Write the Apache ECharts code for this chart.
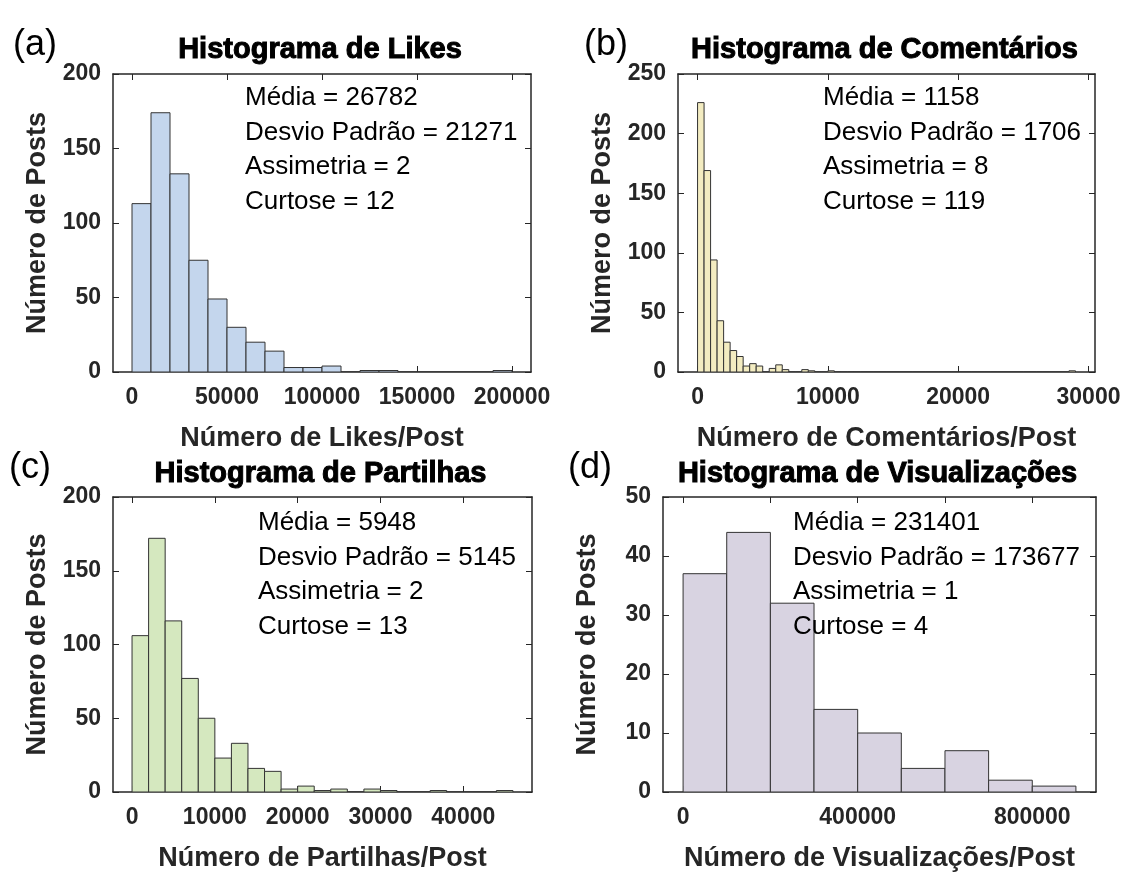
<!DOCTYPE html>
<html>
<head>
<meta charset="utf-8">
<script src="https://cdn.jsdelivr.net/npm/echarts@6/dist/echarts.min.js"></script>
<style>html,body{margin:0;padding:0;background:#fff}#c{width:1129px;height:873px}</style>
</head>
<body>
<div id="c"></div>
<script>
// ---- DATA ----
const likesCounts    = [113, 174, 133, 75, 49, 30, 20, 14, 3, 3, 4, 0, 1, 1, 0, 0, 0, 0, 0, 1];
const likesBinWidth  = 10000;
const commentsCounts = [226, 169, 94, 43, 25, 18, 13, 5, 7, 5, 0, 3, 6, 2, 0, 0, 2, 1, 0, 0, 1,
                        0, 0, 0, 0, 0, 0, 0, 0, 0, 0, 0, 0, 0, 0, 0, 0, 0, 0, 0,
                        0, 0, 0, 0, 0, 0, 0, 0, 0, 0, 0, 0, 0, 0, 0, 0, 0, 1];
const commentsBinWidth = 500;
const sharesCounts   = [106, 172, 116, 77, 50, 23, 33, 16, 14, 2, 4, 1, 2, 0, 2, 1, 0, 0, 1, 0, 0, 0, 1];
const sharesBinWidth = 2000;
const viewsCounts    = [37, 44, 32, 14, 10, 4, 7, 2, 1];
const viewsBinWidth  = 100000;

const likesXTicks    = [0, 50000, 100000, 150000, 200000];
const likesXLabels   = [0, 50000, 100000, 150000, 200000];
const commentsXTicks = [0, 10000, 20000, 30000];
const commentsXLabels= [0, 10000, 20000, 30000];
const sharesXTicks   = [0, 10000, 20000, 30000, 40000];
const sharesXLabels  = [0, 10000, 20000, 30000, 40000];
const viewsXTicks    = [0, 200000, 400000, 600000, 800000];
const viewsXLabels   = [0, 400000, 800000];

const titles   = ['Histograma de Likes', 'Histograma de Comentários', 'Histograma de Partilhas', 'Histograma de Visualizações'];
const xNames   = ['Número de Likes/Post', 'Número de Comentários/Post', 'Número de Partilhas/Post', 'Número de Visualizações/Post'];
const yName    = 'Número de Posts';
const panelTags= ['(a)', '(b)', '(c)', '(d)'];
const statsA = ['Média = 26782', 'Desvio Padrão = 21271', 'Assimetria = 2', 'Curtose = 12'];
const statsB = ['Média = 1158', 'Desvio Padrão = 1706', 'Assimetria = 8', 'Curtose = 119'];
const statsC = ['Média = 5948', 'Desvio Padrão = 5145', 'Assimetria = 2', 'Curtose = 13'];
const statsD = ['Média = 231401', 'Desvio Padrão = 173677', 'Assimetria = 1', 'Curtose = 4'];

// ---- LAYOUT ----
const FONT = '"Liberation Sans", Arial, sans-serif';
const AX = '#262626';
const panels = [
  {counts: likesCounts, bw: likesBinWidth, xmin: -10000, xmax: 210000, ymax: 200, yint: 50,
   ticks: likesXTicks, labels: likesXLabels, color: '#c4d6ed', stats: statsA,
   grid: {left: 113, top: 74, width: 418, height: 298}, statPos: [245, 98], tagPos: [35, 45], titleY: 50},
  {counts: commentsCounts, bw: commentsBinWidth, xmin: -1500, xmax: 30500, ymax: 250, yint: 50,
   ticks: commentsXTicks, labels: commentsXLabels, color: '#f3ecc1', stats: statsB,
   grid: {left: 678, top: 74, width: 417, height: 298}, statPos: [823, 98], tagPos: [606, 45], titleY: 50},
  {counts: sharesCounts, bw: sharesBinWidth, xmin: -2300, xmax: 48300, ymax: 200, yint: 50,
   ticks: sharesXTicks, labels: sharesXLabels, color: '#d5e8bf', stats: statsC,
   grid: {left: 113, top: 497, width: 419, height: 297}, statPos: [258, 523], tagPos: [30, 468], titleY: 474},
  {counts: viewsCounts, bw: viewsBinWidth, xmin: -46000, xmax: 946000, ymax: 50, yint: 10,
   ticks: viewsXTicks, labels: viewsXLabels, color: '#d8d3e1', stats: statsD,
   grid: {left: 663, top: 497, width: 433, height: 297}, statPos: [793, 523], tagPos: [590, 468], titleY: 474}
];

const grids = [], xAxes = [], yAxes = [], series = [], graphics = [];
panels.forEach((p, i) => {
  grids.push(Object.assign({show: false}, p.grid));
  const lineStyle = {color: AX, width: 1.5};
  xAxes.push({
    gridIndex: i, type: 'value', position: 'bottom', min: p.xmin, max: p.xmax,
    axisLine: {show: true, onZero: false, lineStyle},
    axisTick: {show: true, inside: true, length: 6, customValues: p.ticks, lineStyle: {color: AX, width: 1}},
    axisLabel: {show: true, customValues: p.labels, formatter: v => String(v), margin: 14,
      color: AX, fontFamily: FONT, fontSize: 23, fontWeight: 'bold'},
    splitLine: {show: false},
    name: xNames[i], nameLocation: 'middle', nameGap: 53,
    nameTextStyle: {color: AX, fontFamily: FONT, fontSize: 27, fontWeight: 'bold'}
  });
  xAxes.push({
    gridIndex: i, type: 'value', position: 'top', min: p.xmin, max: p.xmax,
    axisLine: {show: true, onZero: false, lineStyle},
    axisTick: {show: true, inside: true, length: 6, customValues: p.ticks, lineStyle: {color: AX, width: 1}},
    axisLabel: {show: false}, splitLine: {show: false}
  });
  yAxes.push({
    gridIndex: i, type: 'value', position: 'left', min: 0, max: p.ymax, interval: p.yint,
    axisLine: {show: true, onZero: false, lineStyle},
    axisTick: {show: true, inside: true, length: 6, lineStyle: {color: AX, width: 1}},
    axisLabel: {show: true, margin: 12, color: AX, fontFamily: FONT, fontSize: 23, fontWeight: 'bold'},
    splitLine: {show: false},
    name: yName, nameLocation: 'middle', nameGap: 62,
    nameTextStyle: {color: AX, fontFamily: FONT, fontSize: 27, fontWeight: 'bold'}
  });
  yAxes.push({
    gridIndex: i, type: 'value', position: 'right', min: 0, max: p.ymax, interval: p.yint,
    axisLine: {show: true, onZero: false, lineStyle},
    axisTick: {show: true, inside: true, length: 6, lineStyle: {color: AX, width: 1}},
    axisLabel: {show: false}, splitLine: {show: false}
  });
  const data = p.counts.map((c, k) => [k * p.bw, (k + 1) * p.bw, c]);
  const color = p.color;
  series.push({
    type: 'custom', xAxisIndex: 2 * i, yAxisIndex: 2 * i, data, clip: true,
    encode: {x: [0, 1], y: 2},
    renderItem: (params, api) => {
      const a = api.coord([api.value(0), api.value(2)]);
      const b = api.coord([api.value(1), 0]);
      return {type: 'rect', shape: {x: a[0], y: a[1], width: b[0] - a[0], height: b[1] - a[1]},
        style: {fill: color, stroke: '#333333', lineWidth: 1}};
    },
    z: 1
  });
  graphics.push({
    type: 'text', x: p.grid.left + p.grid.width / 2 - 2, y: p.titleY,
    style: {text: titles[i], textAlign: 'center', textVerticalAlign: 'middle',
      font: 'bold 29px ' + FONT, fill: '#000', stroke: '#000', lineWidth: 1}
  });
  graphics.push({
    type: 'text', x: p.tagPos[0], y: p.tagPos[1],
    style: {text: panelTags[i], textAlign: 'center', textVerticalAlign: 'middle',
      font: '36px ' + FONT, fill: '#000'}
  });
  graphics.push({
    type: 'text', x: p.statPos[0], y: p.statPos[1] - 17,
    style: {text: p.stats.join('\n'), textAlign: 'left', textVerticalAlign: 'top',
      font: '26px ' + FONT, lineHeight: 34.5, fill: '#000'},
    z: 10
  });
});

const chart = echarts.init(document.getElementById('c'), null, {renderer: 'canvas'});
chart.setOption({
  animation: false,
  backgroundColor: '#fff',
  grid: grids, xAxis: xAxes, yAxis: yAxes, series,
  graphic: graphics
});
</script>
</body>
</html>
